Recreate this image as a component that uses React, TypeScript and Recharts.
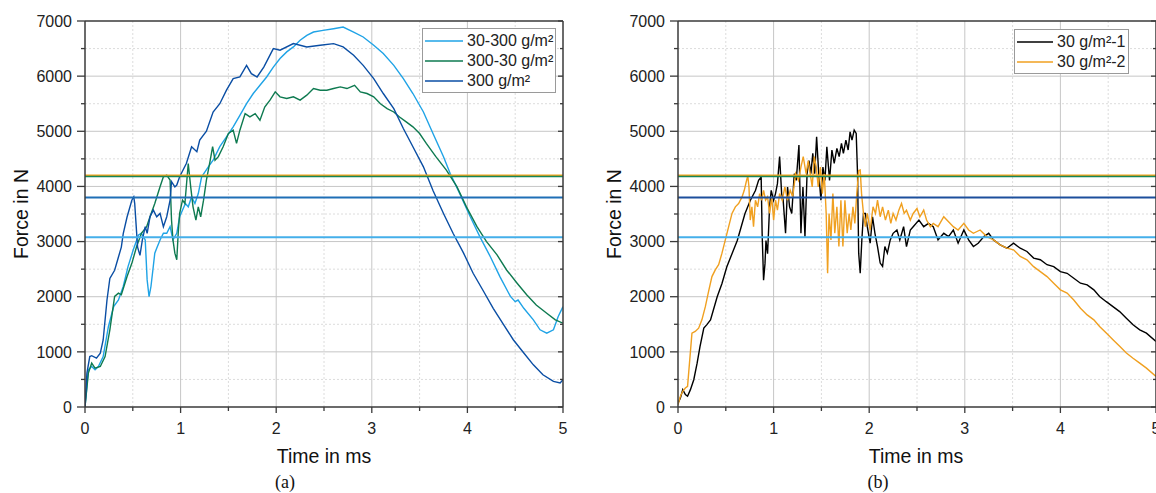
import React from "react";
import { LineChart, Line, XAxis, YAxis, ReferenceLine, Legend } from "recharts";

// ---- panel (a) series: [time ms, force N]
const s30to300: [number, number][] = [
  [0, 0], [0.035, 675], [0.07, 735], [0.105, 675], [0.14, 735], [0.19, 915], [0.245, 1460], [0.3, 1820],
  [0.35, 1940], [0.4, 2185], [0.45, 2545], [0.505, 2850], [0.56, 3120], [0.59, 3150], [0.63, 3030],
  [0.65, 2305], [0.67, 2000], [0.69, 2185], [0.71, 2485], [0.73, 2790], [0.75, 2880], [0.785, 3030],
  [0.82, 3150], [0.855, 3150], [0.89, 3270], [0.92, 3030], [0.96, 3150], [0.99, 3450], [1.05, 3690],
  [1.08, 3630], [1.115, 3810], [1.15, 3690], [1.185, 3870], [1.22, 4175], [1.255, 4265], [1.29, 4355],
  [1.34, 4475], [1.41, 4720], [1.48, 4900], [1.55, 5080], [1.62, 5290], [1.69, 5500], [1.76, 5685],
  [1.83, 5835], [1.9, 5985], [1.97, 6165], [2.04, 6320], [2.11, 6440], [2.18, 6530], [2.25, 6650],
  [2.32, 6740], [2.39, 6800], [2.49, 6830], [2.6, 6860], [2.7, 6890], [2.81, 6800], [2.91, 6710],
  [3.02, 6560], [3.12, 6410], [3.23, 6195], [3.33, 5955], [3.43, 5685], [3.54, 5350], [3.64, 4960],
  [3.75, 4540], [3.82, 4235], [3.92, 3870], [4.03, 3450], [4.13, 3090], [4.24, 2725], [4.34, 2365],
  [4.45, 2005], [4.5, 1910], [4.53, 1940], [4.59, 1790], [4.69, 1580], [4.76, 1400], [4.83, 1340],
  [4.9, 1400], [4.95, 1640], [5.0, 1820],
];

const s300to30: [number, number][] = [
  [0, 0], [0.035, 615], [0.07, 795], [0.105, 705], [0.16, 735], [0.21, 915], [0.26, 1400], [0.31, 2005],
  [0.35, 2065], [0.38, 2035], [0.44, 2365], [0.49, 2605], [0.54, 2910], [0.59, 3150], [0.645, 3270],
  [0.68, 3450], [0.73, 3690], [0.785, 3995], [0.82, 4175], [0.855, 4205], [0.89, 4115], [0.905, 3390],
  [0.92, 3030], [0.94, 2790], [0.96, 2670], [0.975, 3150], [0.99, 3510], [1.02, 3750], [1.045, 3690],
  [1.08, 4415], [1.105, 4000], [1.13, 3630], [1.16, 3390], [1.185, 3630], [1.21, 3450], [1.24, 3750],
  [1.27, 4115], [1.31, 4475], [1.335, 4720], [1.36, 4475], [1.395, 4540], [1.445, 4720], [1.5, 4960],
  [1.55, 5020], [1.585, 4780], [1.62, 5020], [1.675, 5320], [1.725, 5260], [1.78, 5320], [1.83, 5200],
  [1.88, 5440], [1.935, 5565], [1.99, 5715], [2.04, 5625], [2.11, 5595], [2.18, 5625], [2.25, 5565],
  [2.32, 5655], [2.39, 5775], [2.46, 5745], [2.53, 5745], [2.6, 5775], [2.67, 5805], [2.74, 5775],
  [2.82, 5835], [2.88, 5715], [2.95, 5685], [3.02, 5625], [3.09, 5500], [3.16, 5410], [3.23, 5350],
  [3.29, 5260], [3.36, 5170], [3.43, 5080], [3.5, 4960], [3.57, 4780], [3.67, 4540], [3.78, 4295],
  [3.89, 3995], [3.99, 3630], [4.1, 3270], [4.2, 3000], [4.31, 2760], [4.41, 2485], [4.52, 2245],
  [4.62, 2035], [4.72, 1850], [4.83, 1700], [4.92, 1580], [5.0, 1520],
];

const s300: [number, number][] = [
  [0, 0], [0.02, 615], [0.05, 915], [0.07, 930], [0.12, 885], [0.16, 975], [0.19, 1215], [0.23, 1940],
  [0.26, 2330], [0.31, 2480], [0.35, 2720], [0.38, 2900], [0.4, 3145], [0.44, 3445], [0.49, 3750],
  [0.51, 3810], [0.52, 3690], [0.55, 2900], [0.575, 2750], [0.6, 3030], [0.63, 3270], [0.65, 3150],
  [0.68, 3450], [0.715, 3570], [0.75, 3450], [0.785, 3510], [0.82, 3270], [0.855, 3450], [0.89, 3750],
  [0.905, 4085], [0.94, 3990], [0.96, 4025], [0.99, 4175], [1.06, 4415], [1.115, 4720], [1.17, 4630],
  [1.2, 4840], [1.27, 5000], [1.34, 5350], [1.41, 5500], [1.48, 5745], [1.55, 5955], [1.62, 5985],
  [1.69, 6195], [1.74, 6045], [1.8, 5985], [1.87, 6165], [1.97, 6500], [2.04, 6470], [2.18, 6590],
  [2.32, 6530], [2.46, 6560], [2.6, 6590], [2.7, 6530], [2.81, 6380], [2.91, 6195], [3.02, 5955],
  [3.12, 5685], [3.23, 5410], [3.33, 5050], [3.43, 4720], [3.54, 4355], [3.64, 3925], [3.75, 3510],
  [3.85, 3150], [3.96, 2790], [4.06, 2425], [4.17, 2095], [4.27, 1790], [4.38, 1490], [4.48, 1220],
  [4.59, 980], [4.69, 765], [4.79, 585], [4.9, 465], [4.97, 435], [5.0, 495],
];

// ---- panel (b) series
const s30run1: [number, number][] = [
  [0, 70], [0.025, 165], [0.05, 315], [0.077, 225], [0.1, 195], [0.13, 315], [0.165, 495], [0.2, 795],
  [0.23, 1095], [0.27, 1430], [0.3, 1490], [0.34, 1580], [0.37, 1760], [0.41, 2000], [0.46, 2240],
  [0.51, 2540], [0.565, 2780], [0.62, 3020], [0.65, 3200], [0.7, 3505], [0.756, 3745], [0.81, 3925],
  [0.843, 4110], [0.87, 4170], [0.88, 3150], [0.895, 2300], [0.91, 2600], [0.92, 3020], [0.937, 2780],
  [0.958, 3630], [0.975, 3930], [1.0, 3750], [1.02, 3870], [1.04, 4050], [1.063, 4540], [1.084, 3870],
  [1.1, 3750], [1.125, 3150], [1.146, 3990], [1.167, 3630], [1.19, 3510], [1.216, 4230], [1.237, 4110],
  [1.265, 4750], [1.286, 3150], [1.307, 3990], [1.328, 3090], [1.35, 4230], [1.37, 4470], [1.39, 4230],
  [1.41, 4600], [1.43, 4230], [1.45, 4900], [1.47, 4290], [1.495, 3750], [1.516, 4350], [1.537, 4110],
  [1.557, 4720], [1.585, 4110], [1.61, 4660], [1.634, 4420], [1.662, 4690], [1.686, 4540], [1.71, 4780],
  [1.73, 4600], [1.756, 4840], [1.78, 4660], [1.8, 4990], [1.82, 4840], [1.843, 5020], [1.864, 4960],
  [1.878, 4230], [1.89, 2790], [1.906, 2425], [1.923, 3030], [1.94, 3510], [1.96, 3510], [1.98, 3270],
  [2.01, 2970], [2.035, 3450], [2.06, 3150], [2.087, 2910], [2.115, 2610], [2.14, 2550], [2.164, 2910],
  [2.19, 2790], [2.22, 3030], [2.25, 3150], [2.29, 3210], [2.32, 3030], [2.36, 3270], [2.39, 2910],
  [2.43, 3210], [2.46, 3270], [2.52, 3390], [2.57, 3270], [2.62, 3330], [2.67, 3270], [2.72, 3030],
  [2.78, 3150], [2.83, 3090], [2.88, 3210], [2.93, 2970], [2.99, 3210], [3.04, 3030], [3.09, 2910],
  [3.14, 2970], [3.2, 3090], [3.25, 3150], [3.3, 3030], [3.37, 2940], [3.44, 2880], [3.51, 2970],
  [3.58, 2880], [3.65, 2820], [3.72, 2700], [3.79, 2670], [3.86, 2580], [3.93, 2545], [4.0, 2455],
  [4.07, 2425], [4.14, 2335], [4.21, 2245], [4.28, 2215], [4.35, 2125], [4.41, 2005], [4.48, 1910],
  [4.55, 1820], [4.62, 1730], [4.69, 1610], [4.76, 1490], [4.83, 1400], [4.9, 1340], [5.0, 1190],
];

const s30run2: [number, number][] = [
  [0, 40], [0.025, 195], [0.05, 285], [0.077, 345], [0.1, 375], [0.12, 795], [0.146, 1340], [0.18, 1370],
  [0.216, 1430], [0.25, 1580], [0.286, 1820], [0.32, 2095], [0.355, 2365], [0.39, 2485], [0.425, 2580],
  [0.46, 2790], [0.495, 3030], [0.53, 3270], [0.565, 3510], [0.6, 3630], [0.634, 3690], [0.67, 3810],
  [0.693, 3930], [0.714, 4085], [0.73, 4190], [0.742, 4000], [0.756, 3390], [0.773, 3630], [0.79, 3270],
  [0.81, 3750], [0.833, 3630], [0.854, 3870], [0.875, 3750], [0.895, 3930], [0.916, 3750], [0.937, 3810],
  [0.958, 3510], [0.98, 3810], [1.0, 3390], [1.02, 3750], [1.04, 3570], [1.063, 3870], [1.09, 3750],
  [1.118, 3990], [1.146, 3750], [1.174, 3930], [1.2, 3810], [1.23, 4230], [1.26, 4110], [1.286, 4350],
  [1.31, 4540], [1.34, 4230], [1.362, 4470], [1.383, 4230], [1.404, 3990], [1.425, 4540], [1.446, 4350],
  [1.467, 3990], [1.49, 4350], [1.51, 3870], [1.53, 4230], [1.55, 3510], [1.565, 2425], [1.58, 3510],
  [1.6, 3030], [1.62, 3870], [1.64, 3150], [1.662, 3630], [1.683, 2910], [1.704, 3750], [1.725, 2910],
  [1.746, 3750], [1.77, 3150], [1.79, 3510], [1.808, 3210], [1.83, 3630], [1.85, 3330], [1.87, 3870],
  [1.89, 4290], [1.906, 4300], [1.92, 3870], [1.94, 3510], [1.96, 3270], [1.98, 3510], [2.01, 3210],
  [2.04, 3630], [2.066, 3510], [2.087, 3750], [2.115, 3450], [2.14, 3630], [2.17, 3390], [2.2, 3570],
  [2.226, 3330], [2.25, 3510], [2.28, 3390], [2.31, 3570], [2.338, 3690], [2.366, 3510], [2.39, 3570],
  [2.43, 3390], [2.46, 3510], [2.5, 3600], [2.53, 3450], [2.57, 3570], [2.6, 3390], [2.64, 3270],
  [2.67, 3330], [2.72, 3270], [2.78, 3450], [2.83, 3360], [2.88, 3270], [2.93, 3210], [2.99, 3330],
  [3.04, 3210], [3.09, 3150], [3.16, 3210], [3.23, 3090], [3.3, 3030], [3.37, 2940], [3.44, 2880],
  [3.51, 2850], [3.58, 2730], [3.65, 2670], [3.72, 2545], [3.79, 2455], [3.86, 2365], [3.93, 2245],
  [4.0, 2125], [4.07, 2065], [4.14, 1940], [4.21, 1790], [4.28, 1670], [4.35, 1580], [4.41, 1460],
  [4.48, 1340], [4.55, 1220], [4.62, 1100], [4.69, 980], [4.76, 885], [4.83, 795], [4.9, 705], [5.0, 555],
];

// horizontal threshold levels (same in both panels)
const thresholdValues = [4200, 4180, 3800, 3080];
const thresholdColorsA = ["#f2a31b", "#17865a", "#1f6fb6", "#45afea"];
const thresholdColorsB = ["#f2a31b", "#17865a", "#1c4f9c", "#45afea"];

const yTicks = [0, 500, 1000, 1500, 2000, 2500, 3000, 3500, 4000, 4500, 5000, 5500, 6000, 6500, 7000];
const xTicks = [0, 0.5, 1, 1.5, 2, 2.5, 3, 3.5, 4, 4.5, 5];
const yMajorGrid = [1000, 2000, 3000, 4000, 5000, 6000];
const yMinorGrid = [500, 1500, 2500, 3500, 4500, 5500, 6500];
const xMajorGrid = [1, 2, 3, 4];
const xMinorGrid = [0.5, 1.5, 2.5, 3.5, 4.5];

const FONT = "'Liberation Sans', Arial, sans-serif";
const AXIS = "#3a3a3a";

const toPts = (s: [number, number][]) => s.map(([t, f]) => ({ t, f }));

const LeftTick = (p: any) => {
  const major = p.payload.value % 1000 === 0;
  return (
    <g>
      <line x1={p.x - (major ? 8 : 4)} x2={p.x} y1={p.y} y2={p.y} stroke={AXIS} strokeWidth={1.3} />
      {major && (
        <text x={p.x - 13} y={p.y} dy="0.36em" textAnchor="end" fontSize={16} fontFamily={FONT} fill="#222">
          {p.payload.value}
        </text>
      )}
    </g>
  );
};

const RightTick = (p: any) => {
  const major = p.payload.value % 1000 === 0;
  return <line x1={p.x - (major ? 5 : 3)} x2={p.x} y1={p.y} y2={p.y} stroke={AXIS} strokeWidth={1.3} />;
};

const BottomTick = (p: any) => {
  const major = Number.isInteger(p.payload.value);
  return (
    <g>
      <line x1={p.x} x2={p.x} y1={p.y} y2={p.y + (major ? 6 : 4)} stroke={AXIS} strokeWidth={1.3} />
      {major && (
        <text x={p.x} y={p.y + 27} textAnchor="middle" fontSize={16} fontFamily={FONT} fill="#222">
          {p.payload.value}
        </text>
      )}
    </g>
  );
};

const TopTick = (p: any) => {
  const major = Number.isInteger(p.payload.value);
  return <line x1={p.x} x2={p.x} y1={p.y} y2={p.y + (major ? 5 : 3)} stroke={AXIS} strokeWidth={1.3} />;
};

type Series = { name: string; color: string; pts: [number, number][] };

// legend box drawn in series order
const makeLegend = (series: Series[], w: number, sample: number) => () => (
  <div
    style={{
      width: w,
      boxSizing: "border-box",
      border: "1px solid #9a9a9a",
      background: "#fff",
      padding: "2px 0 1px 2px",
      fontFamily: FONT,
      fontSize: 16,
      color: "#222",
    }}
  >
    {series.map((s) => (
      <div key={s.name} style={{ display: "flex", alignItems: "center", height: 20 }}>
        <svg width={sample} height={4} style={{ flex: "none" }}>
          <line x1={0} x2={sample} y1={2} y2={2} stroke={s.color} strokeWidth={1.6} />
        </svg>
        <span style={{ marginLeft: 4, whiteSpace: "nowrap" }}>{s.name}</span>
      </div>
    ))}
  </div>
);

const panelA: Series[] = [
  { name: "30-300 g/m²", color: "#1fa3e6", pts: s30to300 },
  { name: "300-30 g/m²", color: "#0e7a50", pts: s300to30 },
  { name: "300 g/m²", color: "#0a4ea4", pts: s300 },
];

const panelB: Series[] = [
  { name: "30 g/m²-1", color: "#000000", pts: s30run1 },
  { name: "30 g/m²-2", color: "#f0a020", pts: s30run2 },
];

const Panel = ({
  series,
  tColors,
  width,
  margin,
  yWidth,
  legendPos,
  legendW,
  sample,
}: {
  series: Series[];
  tColors: string[];
  width: number;
  margin: { top: number; right: number; bottom: number; left: number };
  yWidth: number;
  legendPos: { left: number; top: number };
  legendW: number;
  sample: number;
}) => (
  <LineChart width={width} height={493} margin={margin}>
    <XAxis
      type="number"
      dataKey="t"
      domain={[0, 5]}
      ticks={xTicks}
      height={30}
      tickSize={0}
      tickMargin={0}
      tickLine={false}
      tick={BottomTick}
      axisLine={{ stroke: AXIS, strokeWidth: 1.5 }}
      allowDataOverflow
    />
    <XAxis
      xAxisId="top"
      orientation="top"
      type="number"
      domain={[0, 5]}
      ticks={xTicks}
      height={8}
      tickSize={0}
      tickMargin={0}
      tickLine={false}
      tick={TopTick}
      axisLine={{ stroke: AXIS, strokeWidth: 1.5 }}
      allowDataOverflow
    />
    <YAxis
      type="number"
      domain={[0, 7000]}
      ticks={yTicks}
      width={yWidth}
      tickSize={0}
      tickMargin={0}
      tickLine={false}
      tick={LeftTick}
      axisLine={{ stroke: AXIS, strokeWidth: 1.5 }}
      allowDataOverflow
    />
    <YAxis
      yAxisId="r"
      orientation="right"
      type="number"
      domain={[0, 7000]}
      ticks={yTicks}
      width={8}
      tickSize={0}
      tickMargin={0}
      tickLine={false}
      tick={RightTick}
      axisLine={{ stroke: AXIS, strokeWidth: 1.5 }}
      allowDataOverflow
    />
    {yMinorGrid.map((v) => (
      <ReferenceLine key={"ym" + v} y={v} stroke="#dcdcdc" strokeDasharray="2 2" />
    ))}
    {xMinorGrid.map((v) => (
      <ReferenceLine key={"xm" + v} x={v} stroke="#dcdcdc" strokeDasharray="2 2" />
    ))}
    {yMajorGrid.map((v) => (
      <ReferenceLine key={"yg" + v} y={v} stroke="#c6c6c6" />
    ))}
    {xMajorGrid.map((v) => (
      <ReferenceLine key={"xg" + v} x={v} stroke="#c6c6c6" />
    ))}
    {series.map((s) => (
      <Line
        key={s.name}
        data={toPts(s.pts)}
        dataKey="f"
        name={s.name}
        type="linear"
        stroke={s.color}
        strokeWidth={1.4}
        dot={false}
        isAnimationActive={false}
      />
    ))}
    {thresholdValues.map((v, i) => (
      <ReferenceLine key={"th" + v} y={v} stroke={tColors[i]} strokeWidth={i < 2 ? 1.6 : 2} />
    ))}
    <Legend
      layout="vertical"
      align="center"
      verticalAlign="middle"
      content={makeLegend(series, legendW, sample)}
      wrapperStyle={{ left: legendPos.left, top: legendPos.top, width: legendW }}
    />
  </LineChart>
);

const txt = { fontFamily: FONT, fill: "#111" } as const;

export default function App() {
  return (
    <div style={{ position: "absolute", left: 0, top: 0, width: 1156, height: 493, background: "#fff", overflow: "hidden" }}>
      <div style={{ position: "absolute", left: 0, top: 0 }}>
        <Panel
          series={panelA}
          tColors={thresholdColorsA}
          width={580}
          margin={{ top: 13, right: 9, bottom: 56, left: 0 }}
          yWidth={85}
          legendPos={{ left: 422, top: 28 }}
          legendW={134}
          sample={38}
        />
      </div>
      <div style={{ position: "absolute", left: 580, top: 0 }}>
        <Panel
          series={panelB}
          tColors={thresholdColorsB}
          width={584}
          margin={{ top: 13, right: 0, bottom: 56, left: 0 }}
          yWidth={98}
          legendPos={{ left: 434, top: 29 }}
          legendW={115}
          sample={36}
        />
      </div>
      <svg width={1156} height={493} style={{ position: "absolute", left: 0, top: 0, pointerEvents: "none" }}>
        <text x={28} y={214} transform="rotate(-90 28 214)" textAnchor="middle" fontSize={19.5} {...txt}>
          Force in N
        </text>
        <text x={621} y={214} transform="rotate(-90 621 214)" textAnchor="middle" fontSize={19.5} {...txt}>
          Force in N
        </text>
        <text x={324} y={463} textAnchor="middle" fontSize={19.5} {...txt}>
          Time in ms
        </text>
        <text x={916} y={463} textAnchor="middle" fontSize={19.5} {...txt}>
          Time in ms
        </text>
        <text x={285} y={488} textAnchor="middle" fontSize={18} fontFamily="'Liberation Serif', 'DejaVu Serif', serif" fill="#111">
          (a)
        </text>
        <text x={878} y={488} textAnchor="middle" fontSize={18} fontFamily="'Liberation Serif', 'DejaVu Serif', serif" fill="#111">
          (b)
        </text>
      </svg>
    </div>
  );
}
